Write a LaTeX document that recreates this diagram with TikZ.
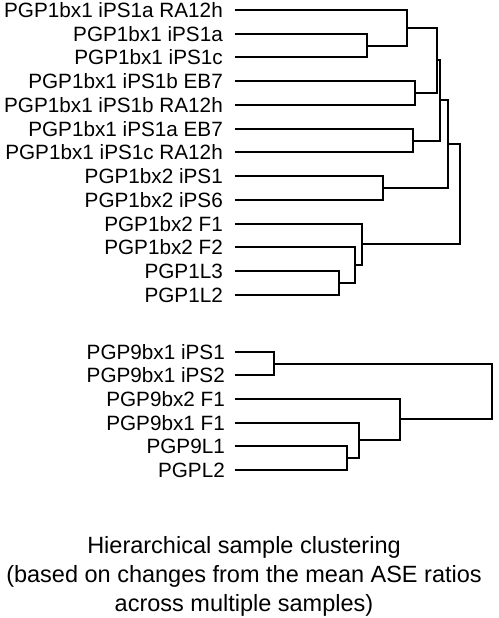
\documentclass[tikz,border=0pt]{standalone}
\usepackage{fontspec}
\setmainfont{Liberation Sans}
\usetikzlibrary{positioning}

\begin{document}
\begin{tikzpicture}[
  x=1pt,y=-1pt,
  leaf/.style={inner sep=0pt,font=\fontsize{20.7}{24}\selectfont},
  link/.style={draw=black,line width=2pt},
  caption/.style={inner sep=0pt,align=center,font=\fontsize{23.5}{29}\selectfont},
]
\useasboundingbox (0,0) rectangle (498,618);

% === PGP1 leaves ===
\coordinate (p1) at (235,10);
\coordinate (p2) at (235,34);
\coordinate (p3) at (235,57);
\coordinate (p4) at (235,81);
\coordinate (p5) at (235,105);
\coordinate (p6) at (235,129);
\coordinate (p7) at (235,152);
\coordinate (p8) at (235,176);
\coordinate (p9) at (235,200);
\coordinate (p10) at (235,224);
\coordinate (p11) at (235,247);
\coordinate (p12) at (235,271);
\coordinate (p13) at (235,295);

\node[leaf,left=12pt of p1] (s1) {PGP1bx1 iPS1a RA12h};
\node[leaf,left=12pt of p2] (s2) {PGP1bx1 iPS1a};
\node[leaf,left=12pt of p3] (s3) {PGP1bx1 iPS1c};
\node[leaf,left=12pt of p4] (s4) {PGP1bx1 iPS1b EB7};
\node[leaf,left=12pt of p5] (s5) {PGP1bx1 iPS1b RA12h};
\node[leaf,left=12pt of p6] (s6) {PGP1bx1 iPS1a EB7};
\node[leaf,left=12pt of p7] (s7) {PGP1bx1 iPS1c RA12h};
\node[leaf,left=12pt of p8] (s8) {PGP1bx2 iPS1};
\node[leaf,left=12pt of p9] (s9) {PGP1bx2 iPS6};
\node[leaf,left=12pt of p10] (s10) {PGP1bx2 F1};
\node[leaf,left=12pt of p11] (s11) {PGP1bx2 F2};
\node[leaf,left=12pt of p12] (s12) {PGP1L3};
\node[leaf,left=12pt of p13] (s13) {PGP1L2};

% PGP1 merge points
\coordinate (m23) at (367,46);
\coordinate (m123) at (407,28);
\coordinate (m45) at (415,93);
\coordinate (m1to5) at (437,60);
\coordinate (m67) at (413,141);
\coordinate (m1to7) at (440,100);
\coordinate (m89) at (383,188);
\coordinate (m1to9) at (448,144);
\coordinate (m1213) at (339,283);
\coordinate (m11) at (355,265);
\coordinate (m10) at (362,244);
\coordinate (mroot) at (460,194);

\draw[link] (p2) -| (m23) |- (p3);
\draw[link] (p1) -| (m123) |- (m23);
\draw[link] (p4) -| (m45) |- (p5);
\draw[link] (m123) -| (m1to5) |- (m45);
\draw[link] (p6) -| (m67) |- (p7);
\draw[link] (m1to5) -| (m1to7) |- (m67);
\draw[link] (p8) -| (m89) |- (p9);
\draw[link] (m1to7) -| (m1to9) |- (m89);
\draw[link] (p12) -| (m1213) |- (p13);
\draw[link] (p11) -| (m11) |- (m1213);
\draw[link] (p10) -| (m10) |- (m11);
\draw[link] (m1to9) -| (mroot) |- (m10);

% === PGP9 leaves ===
\coordinate (q1) at (235,352);
\coordinate (q2) at (235,375);
\coordinate (q3) at (235,399);
\coordinate (q4) at (235,423);
\coordinate (q5) at (235,446);
\coordinate (q6) at (235,470);

\node[leaf,left=10pt of q1] (r1) {PGP9bx1 iPS1};
\node[leaf,left=10pt of q2] (r2) {PGP9bx1 iPS2};
\node[leaf,left=10pt of q3] (r3) {PGP9bx2 F1};
\node[leaf,left=10pt of q4] (r4) {PGP9bx1 F1};
\node[leaf,left=10pt of q5] (r5) {PGP9L1};
\node[leaf,left=10pt of q6] (r6) {PGPL2};

% PGP9 merge points
\coordinate (n12) at (274,364);
\coordinate (n56) at (347,458);
\coordinate (n4) at (359,440);
\coordinate (n3) at (400,419);
\coordinate (nroot) at (492,392);

\draw[link] (q1) -| (n12) |- (q2);
\draw[link] (q5) -| (n56) |- (q6);
\draw[link] (q4) -| (n4) |- (n56);
\draw[link] (q3) -| (n3) |- (n4);
\draw[link] (n12) -| (nroot) |- (n3);

% Caption
\node[caption] (title) at (244,576) {Hierarchical sample clustering\\(based on changes from the mean ASE ratios\\across multiple samples)};

\end{tikzpicture}
\end{document}
